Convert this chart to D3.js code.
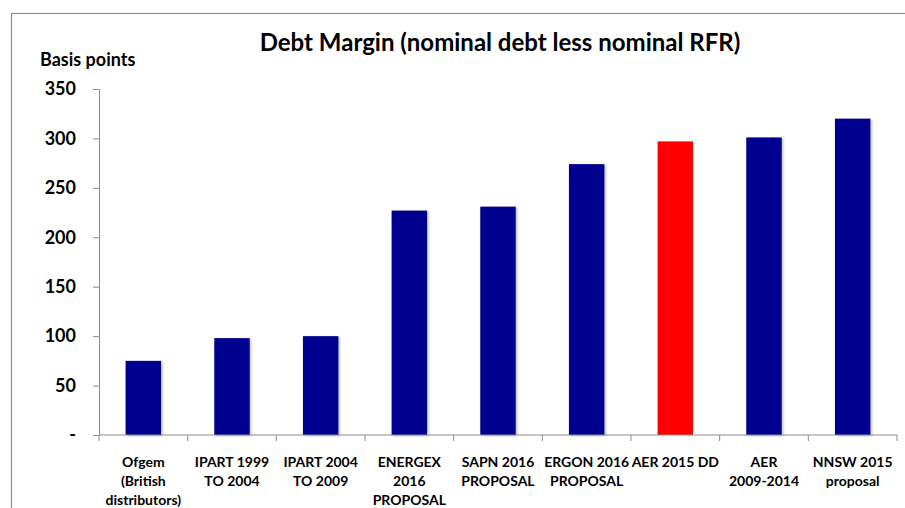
<!DOCTYPE html>
<html>
<head>
<meta charset="utf-8">
<script src="https://cdn.jsdelivr.net/npm/d3@7"></script>
<style>
  body { margin: 0; background: #fff; }
  svg { display: block; font-family: Lato, "Open Sans", sans-serif; font-weight: bold; }
</style>
</head>
<body>
<div id="chart"></div>
<script>
// Data
const categories = [
    ['Ofgem', '(British', 'distributors)'],
    ['IPART 1999', 'TO 2004'],
    ['IPART 2004', 'TO 2009'],
    ['ENERGEX', '2016', 'PROPOSAL'],
    ['SAPN 2016', 'PROPOSAL'],
    ['ERGON 2016', 'PROPOSAL'],
    ['AER 2015 DD'],
    ['AER', '2009-2014'],
    ['NNSW 2015', 'proposal'],
];
const values = [75, 98, 100, 227, 231, 274, 297, 301, 320];
const highlight = [false, false, false, false, false, false, true, false, false];
const yTicks = [0, 50, 100, 150, 200, 250, 300, 350];

const width = 905;
const height = 508;
const plot = { left: 99, right: 897, top: 89, bottom: 435 };

const svg = d3.select('#chart').append('svg')
    .attr('width', width)
    .attr('height', height);

// outer frame (only top/left visible in the picture)
svg.append('rect')
    .attr('x', 11.5).attr('y', 13.5)
    .attr('width', 1000).attr('height', 1000)
    .attr('fill', 'none')
    .attr('stroke', '#8c8c8c')
    .attr('stroke-width', 1.2);

const defs = svg.append('defs');
const shadow = defs.append('filter').attr('id', 'shadow')
    .attr('x', '-20%').attr('y', '-5%').attr('width', '150%').attr('height', '120%');
shadow.append('feDropShadow')
    .attr('dx', 1.5).attr('dy', 1).attr('stdDeviation', 1)
    .attr('flood-color', '#000').attr('flood-opacity', 0.25);

const x = d3.scaleBand()
    .domain(d3.range(categories.length))
    .range([plot.left, plot.right])
    .paddingInner(0.6)
    .paddingOuter(0.3);

const y = d3.scaleLinear()
    .domain([0, 350])
    .range([plot.bottom, plot.top]);

// title
svg.append('text')
    .attr('x', 500).attr('y', 51)
    .attr('text-anchor', 'middle')
    .style('font-size', '24px')
    .attr('fill', '#000')
    .text('Debt Margin (nominal debt less nominal RFR)');

svg.append('text')
    .attr('x', 40).attr('y', 66)
    .style('font-size', '18px')
    .text('Basis points');

// bars
svg.append('g').selectAll('rect')
    .data(values)
    .join('rect')
    .attr('x', (d, i) => x(i))
    .attr('width', x.bandwidth())
    .attr('y', d => y(d))
    .attr('height', d => y(0) - y(d))
    .attr('fill', (d, i) => highlight[i] ? '#ff0000' : '#000090')
    .attr('filter', (d, i) => highlight[i] ? null : 'url(#shadow)');

// y axis
const yAxis = svg.append('g')
    .attr('transform', `translate(${plot.left},0)`)
    .call(d3.axisLeft(y).tickValues(yTicks).tickSize(6).tickPadding(17)
        .tickFormat(d => d === 0 ? '-' : d));
yAxis.select('.domain').attr('stroke', '#8c8c8c');
yAxis.selectAll('.tick line').attr('stroke', '#8c8c8c');
yAxis.selectAll('.tick text')
    .style('font-size', '18px')
    .style('font-family', 'Lato, sans-serif')
    .style('font-weight', 'bold')
    .attr('fill', '#000');

// x axis baseline with category boundary ticks
const xAxis = svg.append('g');
xAxis.append('line')
    .attr('x1', plot.left).attr('x2', plot.right)
    .attr('y1', y(0)).attr('y2', y(0))
    .attr('stroke', '#8c8c8c');
const step = (plot.right - plot.left) / categories.length;
xAxis.selectAll('line.tick')
    .data(d3.range(categories.length + 1))
    .join('line')
    .attr('class', 'tick')
    .attr('x1', i => plot.left + i * step).attr('x2', i => plot.left + i * step)
    .attr('y1', y(0)).attr('y2', y(0) + 6)
    .attr('stroke', '#8c8c8c');

// category labels
const labels = svg.append('g').selectAll('text')
    .data(categories)
    .join('text')
    .attr('x', (d, i) => x(i) + x.bandwidth() / 2)
    .attr('y', 467)
    .attr('text-anchor', 'middle')
    .style('font-size', '14px')
    .attr('fill', '#000');
labels.selectAll('tspan')
    .data(d => d)
    .join('tspan')
    .attr('x', function () { return this.parentNode.getAttribute('x'); })
    .attr('dy', (d, i) => i === 0 ? 0 : 19)
    .text(d => d);
</script>
</body>
</html>
